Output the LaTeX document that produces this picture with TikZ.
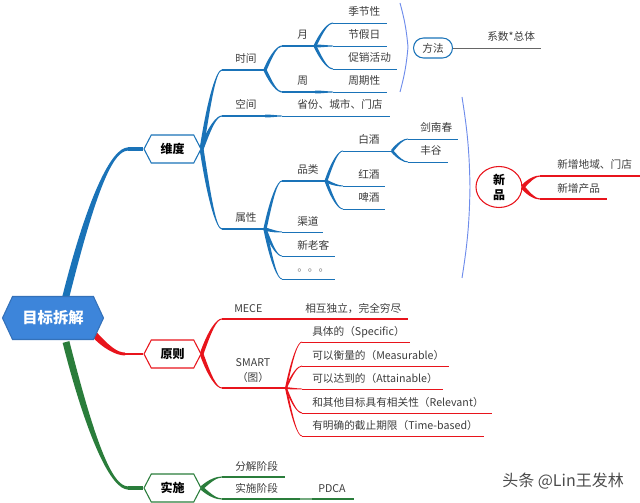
\documentclass[tikz,border=0pt]{standalone}
\usepackage{fontspec}
\setmainfont{Noto Sans CJK SC}
\usetikzlibrary{calc,shapes.symbols,shapes.geometric,shapes.misc}
\pgfdeclarelayer{bg}
\pgfsetlayers{bg,main}
\definecolor{bl}{HTML}{1A73B8}
\definecolor{rd}{HTML}{E8141C}
\definecolor{gn}{HTML}{2A7D3B}
\definecolor{tx}{HTML}{3C3C3C}
\definecolor{brc}{HTML}{6E8CEB}
\definecolor{rootfill}{HTML}{3D85DA}
\newcommand\br[6]{%
 \path (#1) coordinate (tJ);
 \path (#2) coordinate (tC);
 \path let \p1=(tJ), \p2=(tC) in ({\x1+0.6*(\x2-\x1)},\y2) coordinate (tQ);
 \path ($(tJ)!0.6667!(tQ)$) coordinate (tA);
 \path ($(tC)!0.6667!(tQ)$) coordinate (tB);
 \fill[#6] ($(tJ)!#4!90:(tQ)$) .. controls ($(tA)!#4!90:(tQ)$) and ($(tB)!#5!-90:(tQ)$) .. ($(tC)!#5!-90:(tB)$) -- ($(tC)!#5!90:(tB)$) .. controls ($(tB)!#5!90:(tQ)$) and ($(tA)!#4!-90:(tQ)$) .. ($(tJ)!#4!-90:(tQ)$) -- cycle;
 \draw[#6, line width=2*#5] (tC) -- (#3);
}
\begin{document}
\begin{tikzpicture}[x=0.75pt,y=-0.75pt,
 t/.style={anchor=base west, inner sep=0pt, font=\fontsize{8}{10}\selectfont, text=tx},
 hexa/.style={signal, signal to=east and west, signal pointer angle=125, inner sep=0pt, line width=0.8pt, fill=white, font=\bfseries\fontsize{9}{10}\selectfont, minimum width=42.75pt, minimum height=21pt}]
\useasboundingbox (0,0) rectangle (640,503);

% main nodes
\node[hexa, fill=rootfill, draw=rootfill!85!black, minimum width=75.75pt, minimum height=32.25pt, signal pointer angle=130, text=white, font=\bfseries\fontsize{11.5}{12}\selectfont] (root) at (53,318) {目标拆解};
\node[hexa, draw=bl] (wd) at (172.5,149) {维度};
\node[hexa, draw=rd] (yz) at (172.5,354) {原则};
\node[hexa, draw=gn] (ss) at (172.5,488) {实施};
\node[draw=bl, rounded corners=7.5pt, minimum width=29.25pt, minimum height=15pt, inner sep=0pt, line width=0.8pt, font=\fontsize{8}{10}\selectfont, text=tx] (ff) at (433,48) {方法};
\node[ellipse, draw=rd, line width=0.8pt, minimum width=34.5pt, minimum height=30.75pt, inner sep=0pt, align=center, font=\bfseries\fontsize{9}{11.25}\selectfont] (xp) at (499,187) {新\\品};

% text nodes
\node[t] (sj) at (235,63) {时间};
\node[t] (kj) at (235,109) {空间};
\node[t] (sx) at (235,222) {属性};
\node[t] (yue) at (297,39) {月};
\node[t] (zhou) at (297,85) {周};
\node[t] (jjx) at (348,16) {季节性};
\node[t] (jjr) at (348,39) {节假日};
\node[t] (cx) at (348,62) {促销活动};
\node[t] (zqx) at (348,85) {周期性};
\node[t] (sf) at (297,109) {省份、城市、门店};
\node[t] (pl) at (297,174) {品类};
\node[t] (qd) at (297,225) {渠道};
\node[t] (xlk) at (297,249) {新老客};
\node[t, text=black!55] (dots) at (297,272) {。。。};
\node[t] (bj) at (358,144) {白酒};
\node[t] (hj) at (358,179) {红酒};
\node[t] (pj) at (358,202) {啤酒};
\node[t] (jnc) at (420,132) {剑南春};
\node[t] (fg) at (420,155) {丰谷};
\node[t] (xs) at (487,41) {系数*总体};
\node[t] (xzdy) at (557,169) {新增地域、门店};
\node[t] (xzcp) at (557,192) {新增产品};
\node[t] (mece) at (234,312) {MECE};
\node[font=\fontsize{8}{11.25}\selectfont, text=tx, align=center, inner sep=0pt] (smart) at (253,371) {SMART\\（图）};
\node[t] (hx) at (305,312) {相互独立，完全穷尽};
\node[t] (s1) at (312,335) {具体的（Specific）};
\node[t] (s2) at (312,359) {可以衡量的（Measurable）};
\node[t] (s3) at (312,382) {可以达到的（Attainable）};
\node[t] (s4) at (312,406) {和其他目标具有相关性（Relevant）};
\node[t] (s5) at (312,429) {有明确的截止期限（Time-based）};
\node[t] (fj) at (235,470) {分解阶段};
\node[t] (ssj) at (235,492) {实施阶段};
\node[t] (pdca) at (318,492) {PDCA};
\node[font=\fontsize{12}{13}\selectfont, text=black!70, anchor=west, inner sep=0pt] (wm) at (502,481) {头条 @Lin王发林};

% junction coordinates
\coordinate (rb) at (65,300);
\coordinate (rr) at (93,333);
\coordinate (rg) at (66,342);
\coordinate (jt) at (265,70);
\coordinate (js) at (265,116);
\coordinate (ja) at (265,229);
\coordinate (jm) at (315,46);
\coordinate (jwk) at (315,92);
\coordinate (jp) at (326,181);
\coordinate (jb) at (392,151);
\coordinate (jsm) at (286,388);
\coordinate (jpd) at (300,499);
\coordinate (b1t) at (400,3);
\coordinate (b1m) at (408,47);
\coordinate (b1b) at (400,92);
\coordinate (b2t) at (462,97);
\coordinate (b2m) at (470,187);
\coordinate (b2b) at (462,278);
\coordinate (ffe) at (541,48);

\begin{pgfonlayer}{bg}
% root branches
\br{rb}{128,149}{wd.west}{2.6pt}{1.2pt}{bl}
\fill[rd] (rr) circle (2.4pt);
\br{rr}{125,354}{yz.west}{2.4pt}{1.1pt}{rd}
\br{rg}{128,488}{ss.west}{2.6pt}{1.2pt}{gn}
% dimension
\br{wd.east}{222,70}{jt}{1.5pt}{0.45pt}{bl}
\br{wd.east}{222,116}{js}{1.5pt}{0.45pt}{bl}
\br{wd.east}{222,229}{ja}{1.5pt}{0.45pt}{bl}
\br{jt}{282,46}{jm}{1.2pt}{0.4pt}{bl}
\br{jt}{282,92}{jwk}{1.2pt}{0.4pt}{bl}
\br{jm}{333,23}{387,23}{1.1pt}{0.35pt}{bl}
\br{jm}{333,46}{387,46}{1.1pt}{0.35pt}{bl}
\br{jm}{333,69}{397,69}{1.1pt}{0.35pt}{bl}
\br{jwk}{333,92}{387,92}{1.1pt}{0.35pt}{bl}
\br{js}{282,116}{390,116}{1.1pt}{0.35pt}{bl}
\br{ja}{282,181}{jp}{1.2pt}{0.4pt}{bl}
\br{ja}{282,232}{323,232}{1.2pt}{0.35pt}{bl}
\br{ja}{282,256}{335,256}{1.2pt}{0.35pt}{bl}
\br{ja}{282,279}{335,279}{1.2pt}{0.35pt}{bl}
\br{jp}{343,151}{jb}{1.1pt}{0.35pt}{bl}
\br{jp}{343,186}{385,186}{1.1pt}{0.35pt}{bl}
\br{jp}{343,209}{385,209}{1.1pt}{0.35pt}{bl}
\br{jb}{408,139}{458,139}{1pt}{0.35pt}{bl}
\br{jb}{408,162}{448,162}{1pt}{0.35pt}{bl}
% new product
\br{xp.east}{540,176}{640,176}{1.5pt}{0.4pt}{rd}
\br{xp.east}{540,199}{607,199}{1.5pt}{0.4pt}{rd}
% method
\draw[black!60, line width=0.6pt] (ff.east) -- (ffe);
% principles
\br{yz.east}{222,319}{408,319}{1.4pt}{0.4pt}{rd}
\br{yz.east}{222,388}{jsm}{1.4pt}{0.4pt}{rd}
\br{jsm}{302,342}{410,342}{0.7pt}{0.35pt}{rd}
\br{jsm}{302,366}{449,366}{0.7pt}{0.35pt}{rd}
\br{jsm}{302,389}{443,389}{0.7pt}{0.35pt}{rd}
\br{jsm}{302,413}{492,413}{0.7pt}{0.35pt}{rd}
\br{jsm}{302,436}{484,436}{0.7pt}{0.35pt}{rd}
% implementation
\br{ss.east}{222,477}{285,477}{1.4pt}{0.4pt}{gn}
\br{ss.east}{222,499}{jpd}{1.4pt}{0.4pt}{gn}
\br{jpd}{312,499}{354,499}{0.5pt}{0.4pt}{gn}
\end{pgfonlayer}

% braces
\draw[brc, line width=0.7pt] (b1t) to[bend left=5] (b1m) to[bend left=5] (b1b);
\draw[brc, line width=0.7pt] (b2t) to[bend left=4] (b2m) to[bend left=4] (b2b);
\end{tikzpicture}
\end{document}
